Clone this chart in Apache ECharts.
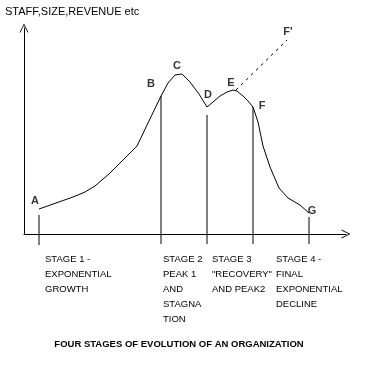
<!DOCTYPE html>
<html>
<head>
<meta charset="utf-8">
<script src="https://cdn.jsdelivr.net/npm/echarts@6/dist/echarts.min.js"></script>
<style>html,body{margin:0;padding:0;background:#fff;}#c{width:372px;height:365px;}</style>
</head>
<body>
<div id="c"></div>
<script>
// Curve (time vs. staff/size/revenue)
var curveX = [15,32,49,61,71,86,99,113,124,137,144,151,158,166,175,183,189,196,203,209,213,219,224,229,234,239,246,255,264,276,285];
var curveY = [25,31,37,42,48,61,74,88,111,138,151,159,160,152,140,127,132,138,142,144,143,138,133,127,112,88,67,46,36,29,21];
// Vertical stage markers: x, top, bottom
var markerX = [15,137,183,229,285];
var markerTop = [19,138,119,127,17];
var markerBottom = [-11,-10,-10,-10,-10];
// Dashed extrapolation E -> F'
var dashX = [212,263];
var dashY = [144,194];
// Point letters
var pointNames = ['A','B','C','D','E','F','G',"F'"];
var pointX = [11,127,153,184,207,238,288,264];
var pointY = [33,150,168,139,151,128,23,202];
// Texts
var yTitle = 'STAFF,SIZE,REVENUE etc';
var stageTexts = [
  ['STAGE 1 -','EXPONENTIAL','GROWTH'],
  ['STAGE 2','PEAK 1','AND','STAGNA','TION'],
  ['STAGE 3','"RECOVERY"','AND PEAK2'],
  ['STAGE 4 -','FINAL','EXPONENTIAL','DECLINE']
];
var stageLeft = [45,163,212,276];
var chartTitle = 'FOUR STAGES OF EVOLUTION OF AN ORGANIZATION';

var chart = echarts.init(document.getElementById('c'));
var chevron = 'path://M5,0 L10,10 L9,10 L5,2 L1,10 L0,10 Z';
var series = [];
series.push({
  type:'line', symbol:'none', silent:true, clip:false,
  data: curveX.map(function(x,i){return [x, curveY[i]];}),
  lineStyle:{color:'#000', width:1}
});
markerX.forEach(function(x,i){
  series.push({type:'line', symbol:'none', silent:true, clip:false,
    data:[[x, markerTop[i]],[x, markerBottom[i]]],
    lineStyle:{color:'#000', width:1}});
});
series.push({type:'line', symbol:'none', silent:true, clip:false,
  data: dashX.map(function(x,i){return [x, dashY[i]];}),
  lineStyle:{color:'#000', width:1, type:[3,4]}});
series.push({type:'scatter', symbolSize:0, silent:true, clip:false,
  data: pointNames.map(function(n,i){return {name:n, value:[pointX[i], pointY[i]]};}),
  label:{show:true, position:'inside', formatter:'{b}', color:'#000',
    fontFamily:'Liberation Sans, Arial', fontWeight:'bold', fontSize:11}
});

var graphics = [];
graphics.push({type:'text', x:5, y:12, style:{text:yTitle, fill:'#000',
  font:'11px "Liberation Sans", Arial', textVerticalAlign:'middle'}});
stageTexts.forEach(function(lines,i){
  graphics.push({type:'text', x:stageLeft[i], y:252, style:{text:lines.join('\n'), fill:'#000',
    font:'9.5px "Liberation Sans", Arial', lineHeight:15, textVerticalAlign:'top'}});
});
graphics.push({type:'text', x:179, y:344, style:{text:chartTitle, fill:'#000',
  font:'bold 9.5px "Liberation Sans", Arial', textAlign:'center', textVerticalAlign:'middle'}});

chart.setOption({
  animation:false,
  backgroundColor:'#fff',
  grid:{left:24, right:26, top:28, bottom:131},
  xAxis:{type:'value', min:0, max:322, axisLabel:{show:false}, axisTick:{show:false}, splitLine:{show:false},
    axisLine:{onZero:false, lineStyle:{color:'#000', width:1}, symbol:['none', chevron], symbolSize:[9,11]}},
  yAxis:{type:'value', min:0, max:206, axisLabel:{show:false}, axisTick:{show:false}, splitLine:{show:false},
    axisLine:{onZero:false, lineStyle:{color:'#000', width:1}, symbol:['none', chevron], symbolSize:[9,11]}},
  series: series,
  graphic: graphics
});
</script>
</body>
</html>
